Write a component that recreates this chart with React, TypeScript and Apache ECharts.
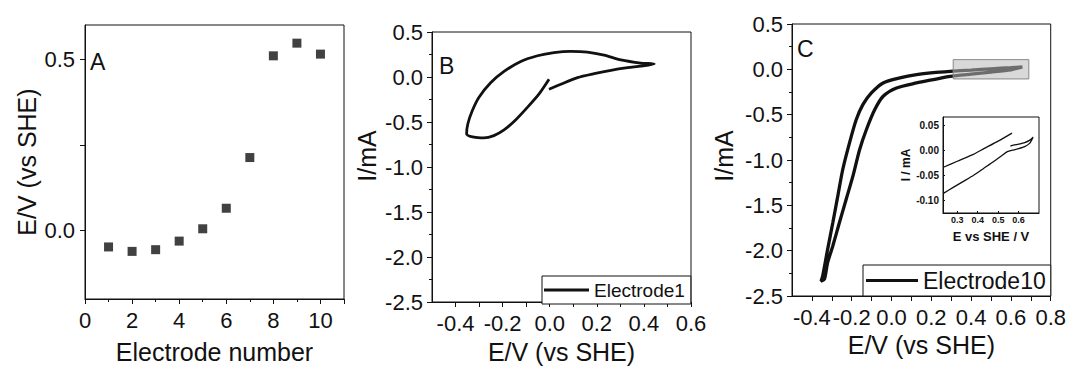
import React, { useEffect, useRef } from "react";
import * as echarts from "echarts";

const FONT = '"Liberation Sans", Arial, sans-serif';
const INK = "#111";

// Panel A: electrode potentials
const electrodeNumbers = [1, 2, 3, 4, 5, 6, 7, 8, 9, 10];
const electrodePotentials = [-0.048, -0.061, -0.056, -0.031, 0.005, 0.065, 0.213, 0.51, 0.547, 0.515];
const panelAYLabels = [0, 0.5];
const panelAYTicks = [0, 0.25, 0.5];

// Panel B: CV of Electrode1 [E, I]
const cvElectrode1: [number, number][] = [
  [-0.003, -0.136], [0.047, -0.081], [0.118, -0.007], [0.189, 0.037], [0.26, 0.074],
  [0.331, 0.103], [0.387, 0.121], [0.444, 0.145], [0.387, 0.155], [0.302, 0.19],
  [0.231, 0.243], [0.16, 0.277], [0.089, 0.285], [0.018, 0.271], [-0.052, 0.236],
  [-0.123, 0.172], [-0.194, 0.062], [-0.251, -0.064], [-0.301, -0.227], [-0.329, -0.375],
  [-0.348, -0.522], [-0.353, -0.632], [-0.322, -0.669], [-0.28, -0.677], [-0.237, -0.651],
  [-0.194, -0.588], [-0.145, -0.478], [-0.095, -0.338], [-0.046, -0.191], [-0.003, -0.025],
];

// Panel C: CV of Electrode10 [E, I]
const cvElectrode10: [number, number][] = [
  [0.658, 0.026], [0.6, 0.018], [0.5, 0.006], [0.4, -0.008], [0.295, -0.022], [0.21, -0.036],
  [0.126, -0.058], [0.042, -0.095], [-0.042, -0.15], [-0.101, -0.26], [-0.144, -0.389],
  [-0.177, -0.554], [-0.211, -0.811], [-0.245, -1.105], [-0.27, -1.399], [-0.295, -1.692],
  [-0.321, -1.986], [-0.346, -2.28], [-0.354, -2.335],
  [-0.337, -2.316], [-0.321, -2.132], [-0.295, -1.949], [-0.262, -1.692], [-0.228, -1.435],
  [-0.194, -1.178], [-0.16, -0.884], [-0.126, -0.664], [-0.084, -0.444], [-0.042, -0.297],
  [0.025, -0.205], [0.126, -0.15], [0.21, -0.113], [0.295, -0.077], [0.4, -0.052],
  [0.5, -0.03], [0.6, -0.005], [0.658, 0.026],
];
const zoomBox: [number, number][] = [[0.31, 0.107], [0.69, -0.106]];

// Inset of panel C
const insetUpper: [number, number][] = [
  [0.232, -0.034], [0.3, -0.022], [0.37, -0.01], [0.43, 0.003], [0.5, 0.018], [0.568, 0.034],
];
const insetLower: [number, number][] = [
  [0.232, -0.086], [0.28, -0.074], [0.33, -0.062], [0.38, -0.05], [0.43, -0.036],
  [0.48, -0.022], [0.52, -0.01], [0.545, -0.003], [0.57, 0.0], [0.6, 0.003],
  [0.63, 0.007], [0.655, 0.014], [0.671, 0.026], [0.655, 0.02], [0.63, 0.015],
  [0.6, 0.012], [0.575, 0.01], [0.56, 0.008],
];

const cvBXLabels = [-0.4, -0.2, 0, 0.2, 0.4, 0.6];
const cvBXTicks = [-0.4, -0.3, -0.2, -0.1, 0, 0.1, 0.2, 0.3, 0.4, 0.5, 0.6];
const cvCXLabels = [-0.4, -0.2, 0, 0.2, 0.4, 0.6, 0.8];
const cvCXTicks = [-0.4, -0.3, -0.2, -0.1, 0, 0.1, 0.2, 0.3, 0.4, 0.5, 0.6, 0.7, 0.8];
const insetXLabels = [0.3, 0.4, 0.5, 0.6];
const insetYLabels = [-0.1, -0.05, 0, 0.05];

const gridBase = { show: true, borderColor: INK, borderWidth: 1, backgroundColor: "#fff" };
const lineAxis = { show: true, onZero: false, lineStyle: { color: INK, width: 1 } };
const tickLabel = (size: number, margin: number, bold = false) => ({
  fontSize: size,
  color: INK,
  fontFamily: FONT,
  margin,
  fontWeight: bold ? "bold" : "normal",
});
const nameStyle = (size: number, bold = false, padding: number[] = [0, 0, 0, 0]) => ({
  fontSize: size,
  color: INK,
  fontFamily: FONT,
  fontWeight: bold ? "bold" : "normal",
  padding,
});

export default function App() {
  const ref = useRef<HTMLDivElement>(null);
  useEffect(() => {
    if (!ref.current) return;
    const chart = echarts.init(ref.current, undefined, { renderer: "svg" });
    const option: any = {
      animation: false,
      backgroundColor: "#fff",
      grid: [
        { ...gridBase, left: 85, top: 25, width: 259, height: 274 },
        { ...gridBase, left: 432, top: 32, width: 259, height: 272 },
        { ...gridBase, left: 792, top: 24, width: 259, height: 272 },
        { ...gridBase, left: 943, top: 117, width: 96, height: 96 },
      ],
      xAxis: [
        {
          gridIndex: 0, type: "value", min: 0, max: 11, interval: 2,
          axisLine: lineAxis,
          axisTick: { show: true, length: 5, lineStyle: { color: INK } },
          minorTick: { show: true, splitNumber: 2, length: 3, lineStyle: { color: INK } },
          splitLine: { show: false },
          axisLabel: {
            ...tickLabel(22, 10),
            formatter: (v: number) => (Math.abs(v % 2) < 1e-9 && v <= 10 ? String(v) : ""),
          },
          name: "Electrode number", nameLocation: "middle", nameGap: 40, nameTextStyle: nameStyle(25),
        },
        {
          gridIndex: 1, type: "value", min: -0.5, max: 0.6,
          axisLine: lineAxis,
          axisTick: { show: true, length: 5, customValues: cvBXTicks, lineStyle: { color: INK } },
          splitLine: { show: false },
          axisLabel: { ...tickLabel(22, 10), customValues: cvBXLabels, formatter: (v: number) => v.toFixed(1) },
          name: "E/V (vs SHE)", nameLocation: "middle", nameGap: 37, nameTextStyle: nameStyle(25),
        },
        {
          gridIndex: 2, type: "value", min: -0.5, max: 0.8,
          axisLine: lineAxis,
          axisTick: { show: true, length: 5, customValues: cvCXTicks, lineStyle: { color: INK } },
          splitLine: { show: false },
          axisLabel: { ...tickLabel(22, 10), customValues: cvCXLabels, formatter: (v: number) => v.toFixed(1) },
          name: "E/V (vs SHE)", nameLocation: "middle", nameGap: 35, nameTextStyle: nameStyle(25),
        },
        {
          gridIndex: 3, type: "value", min: 0.23, max: 0.7,
          axisLine: lineAxis,
          axisTick: { show: true, inside: true, length: 2, customValues: insetXLabels, lineStyle: { color: INK } },
          splitLine: { show: false },
          axisLabel: { ...tickLabel(9, 2, true), customValues: insetXLabels, formatter: (v: number) => v.toFixed(1) },
          name: "E vs SHE / V", nameLocation: "middle", nameGap: 17, nameTextStyle: nameStyle(13, true),
        },
      ],
      yAxis: [
        {
          gridIndex: 0, type: "value", min: -0.2, max: 0.6,
          axisLine: lineAxis,
          axisTick: { show: true, length: 5, customValues: panelAYTicks, lineStyle: { color: INK } },
          splitLine: { show: false },
          axisLabel: { ...tickLabel(22, 10), customValues: panelAYLabels, formatter: (v: number) => v.toFixed(1) },
          name: "E/V (vs SHE)", nameLocation: "middle", nameGap: 46, nameTextStyle: nameStyle(25),
        },
        {
          gridIndex: 1, type: "value", min: -2.5, max: 0.5, interval: 0.5,
          axisLine: lineAxis,
          axisTick: { show: true, length: 5, lineStyle: { color: INK } },
          minorTick: { show: true, splitNumber: 2, length: 3, lineStyle: { color: INK } },
          splitLine: { show: false },
          axisLabel: { ...tickLabel(22, 9), formatter: (v: number) => v.toFixed(1) },
          name: "I/mA", nameLocation: "middle", nameGap: 53, nameTextStyle: nameStyle(25, false, [0, 0, 0, 22]),
        },
        {
          gridIndex: 2, type: "value", min: -2.5, max: 0.5, interval: 0.5,
          axisLine: lineAxis,
          axisTick: { show: true, length: 5, lineStyle: { color: INK } },
          minorTick: { show: true, splitNumber: 2, length: 3, lineStyle: { color: INK } },
          splitLine: { show: false },
          axisLabel: { ...tickLabel(22, 9), formatter: (v: number) => v.toFixed(1) },
          name: "I/mA", nameLocation: "middle", nameGap: 56, nameTextStyle: nameStyle(25, false, [0, 0, 0, 8]),
        },
        {
          gridIndex: 3, type: "value", min: -0.125, max: 0.066,
          axisLine: lineAxis,
          axisTick: { show: true, inside: true, length: 2, customValues: insetYLabels, lineStyle: { color: INK } },
          splitLine: { show: false },
          axisLabel: { ...tickLabel(10, 4, true), customValues: insetYLabels, formatter: (v: number) => v.toFixed(2) },
          name: "I / mA", nameLocation: "middle", nameGap: 29, nameTextStyle: nameStyle(12, true),
        },
      ],
      legend: [
        {
          data: ["Electrode1"], left: 542, top: 276, selectedMode: false,
          borderColor: INK, borderWidth: 1, backgroundColor: "#fff",
          padding: [4.5, 6, 4.5, 2], itemWidth: 45, itemHeight: 3, icon: "rect",
          textStyle: { fontSize: 19, color: INK, fontFamily: FONT },
        },
        {
          data: ["Electrode10"], left: 863, top: 265, selectedMode: false,
          borderColor: INK, borderWidth: 1, backgroundColor: "#fff",
          padding: [4, 5, 4, 3], itemWidth: 52, itemHeight: 3, icon: "rect",
          textStyle: { fontSize: 23, color: INK, fontFamily: FONT },
        },
      ],
      graphic: [
        { type: "text", left: 90, top: 50, style: { text: "A", fontSize: 23, fill: INK, fontFamily: FONT, verticalAlign: "middle" } },
        { type: "text", left: 439, top: 54, style: { text: "B", fontSize: 23, fill: INK, fontFamily: FONT, verticalAlign: "middle" } },
        { type: "text", left: 797, top: 37, style: { text: "C", fontSize: 23, fill: INK, fontFamily: FONT, verticalAlign: "middle" } },
      ],
      series: [
        {
          type: "scatter", name: "Potential", xAxisIndex: 0, yAxisIndex: 0,
          data: electrodeNumbers.map((n, i) => [n, electrodePotentials[i]]),
          symbol: "rect", symbolSize: 9, itemStyle: { color: INK },
        },
        {
          type: "line", name: "Electrode1", xAxisIndex: 1, yAxisIndex: 1,
          data: cvElectrode1, symbol: "none", smooth: 0.25,
          lineStyle: { color: INK, width: 2.8 }, itemStyle: { color: INK },
        },
        {
          type: "line", name: "Electrode10", xAxisIndex: 2, yAxisIndex: 2,
          data: cvElectrode10, symbol: "none", smooth: 0.25,
          lineStyle: { color: INK, width: 3.3 }, itemStyle: { color: INK },
        },
        {
          type: "line", name: "zoom", xAxisIndex: 2, yAxisIndex: 2, data: [], z: 10,
          markArea: {
            silent: true, z: 10,
            itemStyle: { color: "rgba(185,185,185,0.55)", borderColor: "#888", borderWidth: 1 },
            data: [[{ coord: zoomBox[0] }, { coord: zoomBox[1] }]],
          },
        },
        {
          type: "line", name: "insetUpper", xAxisIndex: 3, yAxisIndex: 3,
          data: insetUpper, symbol: "none", smooth: 0.2,
          lineStyle: { color: INK, width: 1.3 },
        },
        {
          type: "line", name: "insetLower", xAxisIndex: 3, yAxisIndex: 3,
          data: insetLower, symbol: "none", smooth: 0.2,
          lineStyle: { color: INK, width: 1.3 },
        },
      ],
    };
    chart.setOption(option);
    return () => chart.dispose();
  }, []);
  return (
    <div
      ref={ref}
      style={{ position: "absolute", left: 0, top: 0, width: 1069, height: 369 }}
    />
  );
}
